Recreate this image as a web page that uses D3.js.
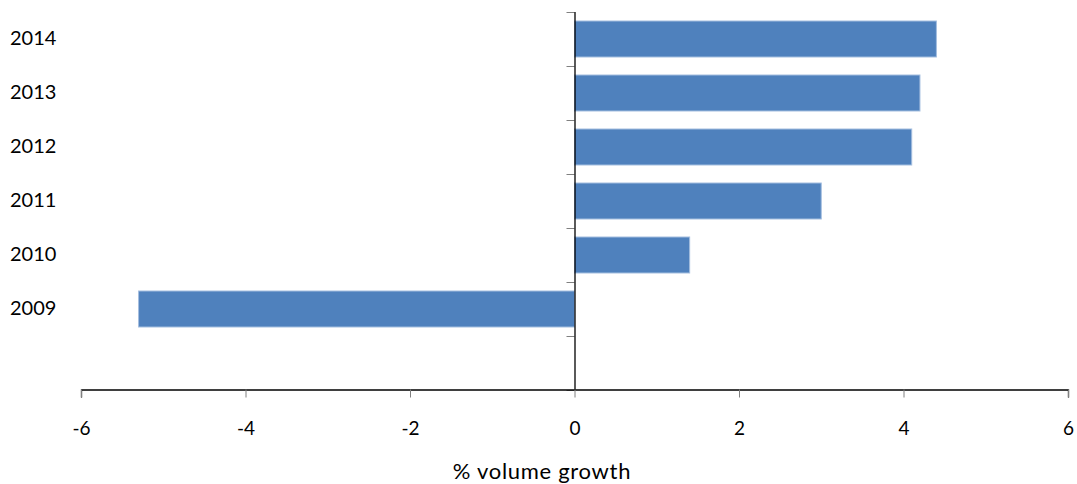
<!DOCTYPE html>
<html>
<head>
<meta charset="utf-8">
<script src="https://cdn.jsdelivr.net/npm/d3@7"></script>
<style>
  body { margin: 0; background: #fff; }
  text { font-family: Lato, "Open Sans", sans-serif; fill: #000; }
</style>
</head>
<body>
<script>
// years, top to bottom; the last band is left empty like the original
let years = ["2014", "2013", "2012", "2011", "2010", "2009", ""];
let growth = [4.4, 4.2, 4.1, 3.0, 1.4, -5.3, null];
let xTicks = [-6, -4, -2, 0, 2, 4, 6];
let xTitle = "% volume growth";

let width = 1077, height = 484;

let svg = d3.select("body").append("svg")
  .attr("width", width)
  .attr("height", height);

let x = d3.scaleLinear().domain([-6, 6]).range([81, 1068]);
let y = d3.scaleBand().domain(years).range([12, 390])
  .paddingInner(1 / 3)
  .paddingOuter(1 / 6);

let rows = years.map(function(d, i) { return { year: d, value: growth[i] }; });

// bars
svg.selectAll(".bar")
  .data(rows.filter(function(d) { return d.value !== null; }))
  .enter()
  .append("rect")
  .attr("class", "bar")
  .attr("x", function(d) { return x(Math.min(0, d.value)); })
  .attr("y", function(d) { return y(d.year); })
  .attr("width", function(d) { return Math.abs(x(d.value) - x(0)); })
  .attr("height", y.bandwidth())
  .attr("fill", "#4f81bd")
  .attr("stroke", "#a4bedf")
  .attr("stroke-width", 1);

// y axis ticks sit on the band edges
let step = y.step();
let edges = years.map(function(d) { return y(d) - y.paddingInner() * step / 2; });
edges.push(390);

svg.selectAll(".ytick")
  .data(edges)
  .enter()
  .append("line")
  .attr("x1", x(0) - 8)
  .attr("x2", x(0))
  .attr("y1", function(d) { return Math.round(d) + 0.5; })
  .attr("y2", function(d) { return Math.round(d) + 0.5; })
  .attr("stroke", "#808080")
  .attr("stroke-width", 1);

svg.append("line")
  .attr("x1", x(0) + 0.5)
  .attr("x2", x(0) + 0.5)
  .attr("y1", 12)
  .attr("y2", 390)
  .attr("stroke", "#000")
  .attr("stroke-width", 1.3);

// year labels, left aligned at the page edge
svg.selectAll(".ylabel")
  .data(years.filter(function(d) { return d !== ""; }))
  .enter()
  .append("text")
  .attr("class", "ylabel")
  .attr("x", 10)
  .attr("y", function(d) { return y(d) + y.bandwidth() / 2 - 1; })
  .attr("dy", "0.35em")
  .style("font-size", "20px")
  .text(function(d) { return d; });

// x axis
let xAxis = svg.append("g")
  .attr("transform", "translate(0,389.5)")
  .call(d3.axisBottom(x).tickValues(xTicks).tickSize(8).tickPadding(24)
    .tickFormat(function(d) { return d < 0 ? "-" + Math.abs(d) : d; }));

xAxis.select(".domain").attr("stroke", "#000").attr("stroke-width", 1.3);
xAxis.selectAll(".tick line").attr("stroke", "#808080");
xAxis.selectAll(".tick text")
  .style("font-family", "Lato, 'Open Sans', sans-serif")
  .style("font-size", "19px")
  .attr("fill", "#000");

svg.append("text")
  .attr("x", 542)
  .attr("y", 479)
  .attr("text-anchor", "middle")
  .style("font-size", "22px")
  .style("letter-spacing", "0.7px")
  .text(xTitle);
</script>
</body>
</html>
